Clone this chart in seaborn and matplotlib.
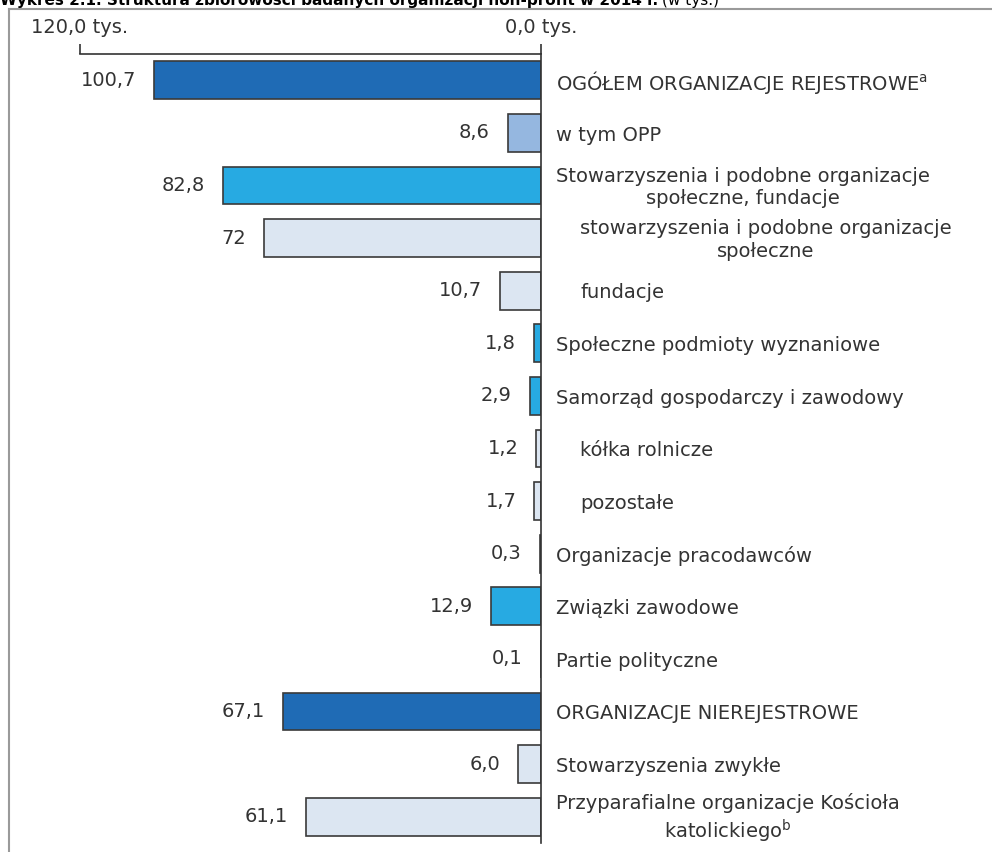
import numpy as np
import pandas as pd
import matplotlib.pyplot as plt
import seaborn as sb
from matplotlib.lines import Line2D

# data (thousands)
categories = [
    'OGÓŁEM ORGANIZACJE REJESTROWE$^{\\mathregular{a}}$',
    'w tym OPP',
    'Stowarzyszenia i podobne organizacje\nspołeczne, fundacje',
    'stowarzyszenia i podobne organizacje\nspołeczne',
    'fundacje',
    'Społeczne podmioty wyznaniowe',
    'Samorząd gospodarczy i zawodowy',
    'kółka rolnicze',
    'pozostałe',
    'Organizacje pracodawców',
    'Związki zawodowe',
    'Partie polityczne',
    'ORGANIZACJE NIEREJESTROWE',
    'Stowarzyszenia zwykłe',
    'Przyparafialne organizacje Kościoła\nkatolickiego$^{\\mathregular{b}}$',
]
values = [100.7, 8.6, 82.8, 72, 10.7, 1.8, 2.9, 1.2, 1.7, 0.3, 12.9, 0.1, 67.1, 6.0, 61.1]
value_labels = ['100,7', '8,6', '82,8', '72', '10,7', '1,8', '2,9', '1,2', '1,7',
                '0,3', '12,9', '0,1', '67,1', '6,0', '61,1']
groups = ['total', 'opp', 'main', 'sub', 'sub', 'main', 'main', 'sub', 'sub',
          'main', 'main', 'main', 'total', 'sub', 'sub']
indent = [0, 0, 0, 1, 1, 0, 0, 1, 1, 0, 0, 0, 0, 0, 0]

group_colors = {'total': '#1f6bb5', 'opp': '#95b7e0', 'main': '#27aae2', 'sub': '#dce6f2'}
text_color = '#333333'

df = pd.DataFrame({'cat': categories, 'val': values, 'grp': groups})
row_colors = [group_colors[g] for g in groups]

fig = plt.figure(figsize=(9.92, 8.52), dpi=100)
ax = fig.add_axes([80 / 992, 1 - 843 / 852, 461 / 992, 789 / 852])

sb.barplot(data=df, x='val', y='cat', hue='cat', palette=row_colors, legend=False,
           orient='h', width=0.72, saturation=1, edgecolor='#3a3a3a', linewidth=1.2, ax=ax)

ax.set_xlim(120, 0)
ax.set_ylim(14.5, -0.5)

# value labels left of the bars
for cont, lab in zip(ax.containers, value_labels):
    ax.bar_label(cont, labels=[lab], padding=13, fontsize=14, color=text_color,
                 clip_on=False)

# category labels right of the zero line
for i, (cat, ind) in enumerate(zip(categories, indent)):
    ax.text(-3.9 - 6.3 * ind, i + 0.04, cat, ha='left', va='center', multialignment='center',
            fontsize=14, color=text_color, clip_on=False, linespacing=1.25)

# axis styling: top line with ticks at both ends
ax.set_yticks([])
ax.set_ylabel('')
ax.set_xlabel('')
ax.xaxis.tick_top()
ax.set_xticks([120, 0])
ax.set_xticklabels(['120,0 tys.', '0,0 tys.'])
ax.tick_params(axis='x', direction='out', length=7, width=1.2, colors='#333333',
               labelsize=14, labelcolor=text_color, pad=5)
for s in ['left', 'bottom']:
    ax.spines[s].set_visible(False)
ax.spines['top'].set_color('#333333')
ax.spines['top'].set_linewidth(1.2)
ax.spines['right'].set_color('#333333')
ax.spines['right'].set_linewidth(1.2)
ax.patch.set_visible(False)

# frame around the chart
fig.add_artist(Line2D([9 / 992, 1], [1 - 9 / 852, 1 - 9 / 852], color='#9a9a9a', lw=1.5))
fig.add_artist(Line2D([9 / 992, 9 / 992], [0, 1 - 9 / 852], color='#9a9a9a', lw=1.5))

# title, mostly cut off by the top edge as in the source
t1 = fig.text(0.0, 1 - 5 / 852, 'Wykres 2.1. Struktura zbiorowości badanych organizacji non-profit w 2014 r.',
              fontsize=11, fontweight='bold', color='black', va='baseline', ha='left')
fig.canvas.draw()
bb = t1.get_window_extent()
fig.text(bb.x1 / fig.bbox.width + 0.004, 1 - 5 / 852, '(w tys.)', fontsize=11,
         color='black', va='baseline', ha='left')

fig.savefig('out.png', dpi=100)
